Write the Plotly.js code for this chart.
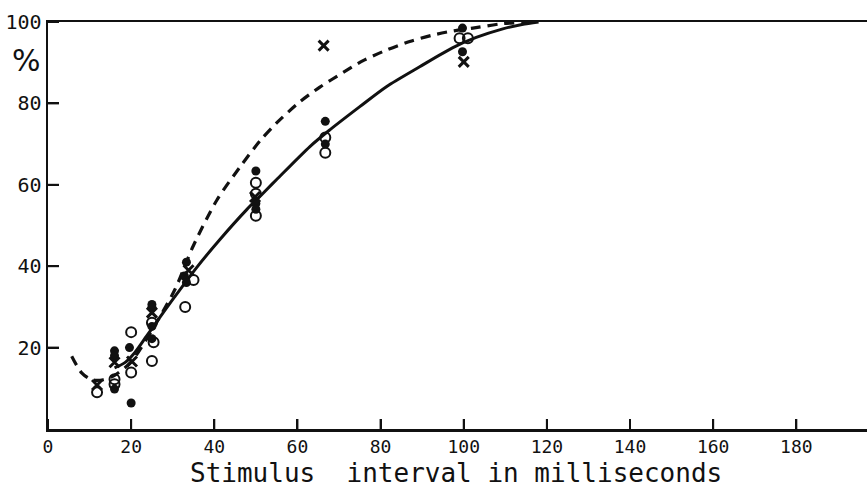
<!DOCTYPE html>
<html>
<head>
<meta charset="utf-8">
<script src="https://cdn.plot.ly/plotly-3.0.1.min.js"></script>
<style>html,body{margin:0;padding:0;background:#fff;}#chart{width:867px;height:496px;}</style>
</head>
<body>
<div id="chart"></div>
<script>
// Tick labels
var xTickVals = [0, 20, 40, 60, 80, 100, 120, 140, 160, 180];
var xTickText = ["0", "20", "40", "60", "80", "100", "120", "140", "160", "180"];
var yTickVals = [20, 40, 60, 80, 100];
var yTickText = ["20", "40", "60", "80", "100"];
var xTitle = "Stimulus\u00a0\u00a0interval in milliseconds";
var yTitle = "%";

// Filled circles
var filledX = [16, 16, 16, 19.6, 20, 25, 25, 25, 25, 33.3, 32.8, 33.3, 50, 50, 50, 66.7, 66.7, 99.7, 99.7];
var filledY = [19.2, 18.0, 9.8, 20.0, 6.4, 30.6, 29.8, 25.2, 22.2, 41.0, 37.6, 36.0, 63.4, 55.4, 54.0, 75.6, 70.0, 98.5, 92.7];

// Open circles
var openX = [11.8, 16, 16, 20, 20, 25, 25.4, 25, 35, 33, 50, 50, 50, 66.7, 66.7, 99, 101];
var openY = [9.0, 12.2, 11.0, 23.8, 13.9, 26.1, 21.3, 16.7, 36.6, 30.0, 60.5, 57.8, 52.4, 71.6, 67.9, 96.0, 96.0];

// Crosses
var crossX = [11.8, 16, 20.2, 25, 33.8, 49.8, 66.3, 100];
var crossY = [10.8, 16.4, 16.6, 28.6, 39.0, 57.0, 94.2, 90.2];

// Dashed curve
var dashedX = [5.7, 8.1, 10.5, 13.3, 16, 20, 25, 30.5, 34.9, 40.6, 46.2, 51, 55, 60.6, 65.4, 71, 75.8, 81.4, 87, 92.6, 97.4, 102.2, 109.4, 116];
var dashedY = [17.9, 13.8, 12.1, 12.1, 13.2, 16.5, 24.3, 34.2, 44.9, 56.2, 64.4, 70.8, 75.2, 80.4, 84.0, 87.6, 90.5, 93.1, 95.2, 96.8, 97.8, 98.5, 99.6, 100];

// Solid curve
var solidX = [16, 18.5, 20.9, 23.7, 26.9, 30.5, 35.7, 41.3, 47.8, 51.8, 55, 63, 67.8, 75, 81.4, 89.4, 97.4, 103, 109.4, 114, 118];
var solidY = [15.0, 16.3, 18.8, 22.8, 27.4, 32.5, 39.6, 46.5, 53.9, 58.0, 61.3, 69.4, 73.5, 79.2, 84.1, 89.0, 93.7, 96.2, 98.3, 99.4, 100];

var ink = "#111";
var traces = [
  {x: dashedX, y: dashedY, mode: "lines", type: "scatter",
   line: {color: ink, width: 3.2, dash: "10px,7px", shape: "spline", smoothing: 0.8}, hoverinfo: "skip"},
  {x: solidX, y: solidY, mode: "lines", type: "scatter",
   line: {color: ink, width: 3, shape: "spline", smoothing: 0.8}, hoverinfo: "skip"},
  {x: openX, y: openY, mode: "markers", type: "scatter",
   marker: {symbol: "circle-open", size: 10, color: ink, line: {width: 2, color: ink}}},
  {x: filledX, y: filledY, mode: "markers", type: "scatter",
   marker: {symbol: "circle", size: 9, color: ink}},
  {x: crossX, y: crossY, mode: "markers", type: "scatter",
   marker: {symbol: "x-thin", size: 10, color: ink, line: {width: 3, color: ink}}}
];

// Inward tick marks, one per tick value (reinforces the axis ticks)
var tickShapes = [];
xTickVals.forEach(function (v) {
  tickShapes.push({type: "line", layer: "above", xref: "x", yref: "paper",
    x0: v, x1: v, y0: 0, y1: 0.0246, line: {color: ink, width: 2}});
});
yTickVals.forEach(function (v) {
  tickShapes.push({type: "line", layer: "above", xref: "paper", yref: "y",
    x0: 0, x1: 0.0134, y0: v, y1: v, line: {color: ink, width: 2}});
});

var layout = {
  width: 867, height: 496,
  margin: {l: 48, r: 0, t: 22, b: 67},
  paper_bgcolor: "#fff", plot_bgcolor: "rgba(0,0,0,0)",
  showlegend: false,
  font: {family: "DejaVu Sans Mono, monospace", color: ink},
  xaxis: {
    range: [0, 197], tickmode: "array", tickvals: xTickVals, ticktext: xTickText,
    ticks: "inside", ticklen: 10, tickwidth: 2, tickcolor: "#111111",
    showline: true, linewidth: 2.5, linecolor: ink, mirror: true,
    showgrid: false, zeroline: false,
    tickfont: {family: "DejaVu Sans Mono, monospace", size: 18, color: ink}
  },
  yaxis: {
    range: [0, 100], tickmode: "array", tickvals: yTickVals, ticktext: yTickText,
    ticks: "inside", ticklen: 11, tickwidth: 2, tickcolor: "#111111",
    showline: true, linewidth: 2.5, linecolor: ink,
    showgrid: false, zeroline: false,
    tickfont: {family: "DejaVu Sans Mono, monospace", size: 20, color: ink}
  },
  shapes: tickShapes,
  annotations: [
    {text: yTitle, xref: "paper", yref: "paper", x: -0.026, y: 0.905, showarrow: false,
     xanchor: "center", yanchor: "middle",
     font: {family: "DejaVu Sans, sans-serif", size: 30, color: ink}},
    {text: xTitle, xref: "paper", yref: "paper", x: 0.498, y: -0.066, showarrow: false,
     xanchor: "center", yanchor: "top",
     font: {family: "DejaVu Sans Mono, monospace", size: 26, color: ink}}
  ]
};

Plotly.newPlot("chart", traces, layout, {staticPlot: true, displayModeBar: false});
</script>
</body>
</html>
